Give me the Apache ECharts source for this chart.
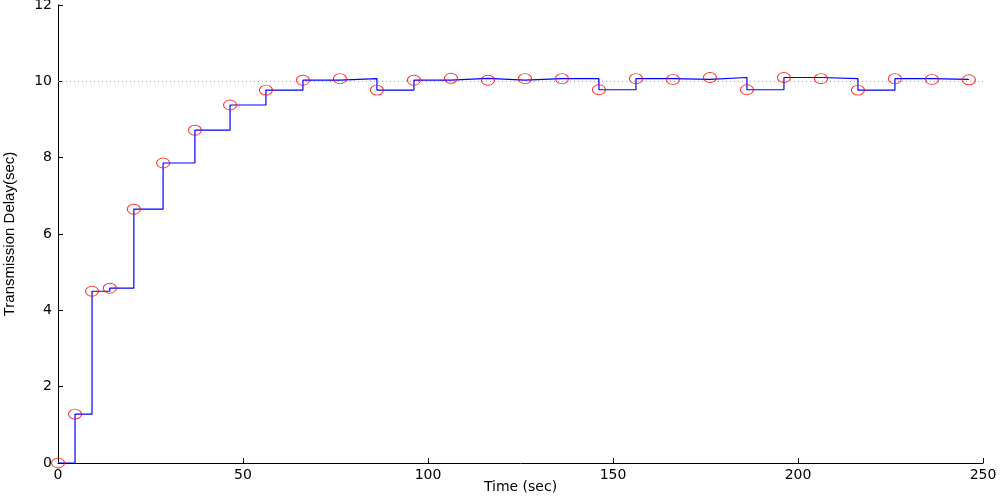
<!DOCTYPE html>
<html>
<head>
<meta charset="utf-8">
<script src="https://cdn.jsdelivr.net/npm/echarts@6/dist/echarts.min.js"></script>
<style>html,body{margin:0;padding:0;background:#fff}#c{width:1000px;height:498px}</style>
</head>
<body>
<div id="c"></div>
<script>
const times = [0, 4.6, 9.2, 14.0, 20.5, 28.4, 37.0, 46.5, 56.2, 66.2, 76.2, 86.2, 96.2, 106.2, 116.2, 126.2, 136.2, 146.2, 156.2, 166.2, 176.2, 186.2, 196.2, 206.2, 216.2, 226.2, 236.2, 246.2];
const delays = [0, 1.28, 4.50, 4.58, 6.65, 7.86, 8.72, 9.38, 9.77, 10.03, 10.07, 9.77, 10.03, 10.08, 10.03, 10.07, 10.07, 9.78, 10.07, 10.05, 10.10, 9.78, 10.10, 10.07, 9.77, 10.07, 10.05, 10.04];
const targetDelay = 10;
const xRange = [0, 250];
const yRange = [0, 12];

const pts = times.map((t, i) => [t, delays[i]]);
const wideFont = '"DejaVu Sans", Verdana, sans-serif';
const narrowFont = '"Liberation Sans", Arial, sans-serif';
const chart = echarts.init(document.getElementById('c'), null, {renderer: 'canvas'});
chart.setOption({
  animation: false,
  backgroundColor: '#fff',
  grid: {left: 58, right: 17, top: 5, bottom: 35, containLabel: false, outerBoundsMode: 'none'},
  xAxis: {
    type: 'value', min: xRange[0], max: xRange[1], interval: 50,
    name: 'Time (sec)', nameLocation: 'middle', nameGap: 17, nameMoveOverlap: false,
    nameTextStyle: {fontFamily: wideFont, fontSize: 14, color: '#000'},
    axisLine: {show: true, lineStyle: {color: '#000', width: 1}},
    axisTick: {show: true, inside: true, length: 5, lineStyle: {color: '#000'}},
    axisLabel: {fontFamily: wideFont, fontSize: 14, color: '#000', margin: 5},
    splitLine: {show: false}
  },
  yAxis: {
    type: 'value', min: yRange[0], max: yRange[1], interval: 2,
    name: 'Transmission Delay(sec)', nameLocation: 'middle', nameGap: 41, nameMoveOverlap: false,
    nameTextStyle: {fontFamily: narrowFont, fontSize: 15, color: '#000'},
    axisLine: {show: true, lineStyle: {color: '#000', width: 1}},
    axisTick: {show: true, inside: true, length: 5, lineStyle: {color: '#000'}},
    axisLabel: {fontFamily: wideFont, fontSize: 14, color: '#000', margin: 6},
    splitLine: {show: false}
  },
  series: [
    {
      type: 'line', data: [[xRange[0], targetDelay], [xRange[1], targetDelay]],
      symbol: 'none', silent: true,
      lineStyle: {color: '#9a9a9a', width: 1, type: [1, 3]}, z: 1
    },
    {
      type: 'line', data: pts, step: 'end', symbol: 'none',
      lineStyle: {color: '#0000ff', width: 1.2}, z: 2
    },
    {
      type: 'scatter', data: pts, symbol: 'circle', symbolSize: [13, 10],
      itemStyle: {color: 'rgba(0,0,0,0)', borderColor: '#ff0000', borderWidth: 1}, z: 3
    }
  ]
});
</script>
</body>
</html>
